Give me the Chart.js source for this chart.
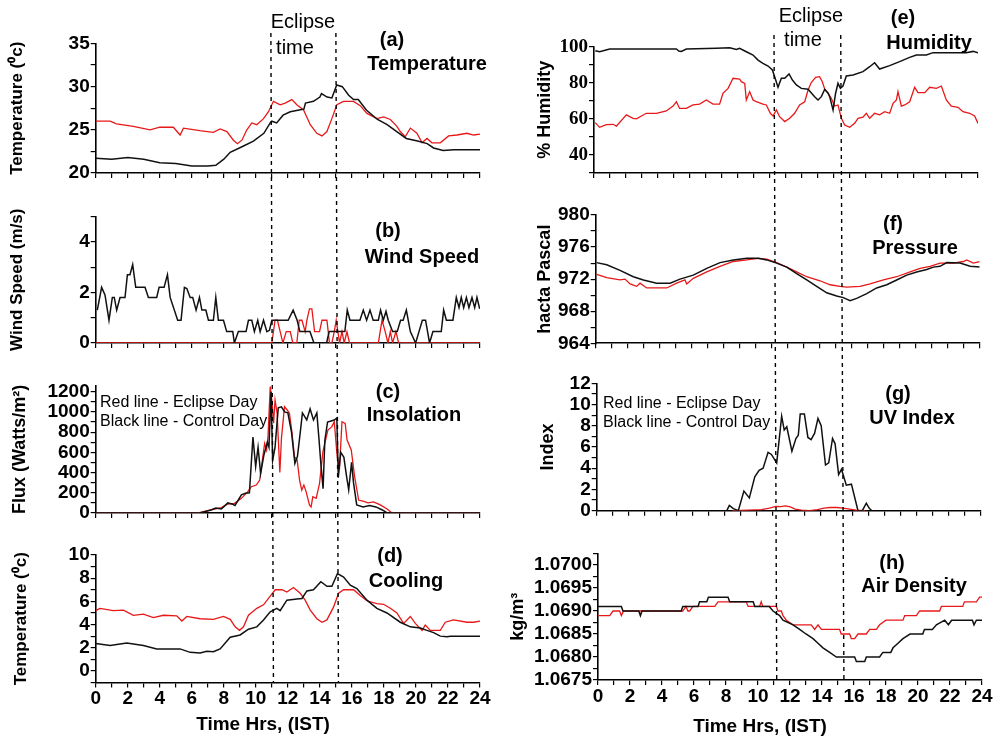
<!DOCTYPE html>
<html>
<head>
<meta charset="utf-8">
<script src="https://cdn.jsdelivr.net/npm/chart.js@4.4.1/dist/chart.umd.min.js"></script>
<style>
  html, body { margin: 0; padding: 0; background: #fff; }
  #fig { position: relative; width: 995px; height: 738px; overflow: hidden;
         font-family: 'Liberation Sans', Arial, sans-serif; color: #000; }
  .col { position: absolute; top: 0; height: 738px; }
  .col canvas { position: absolute; left: 0; top: 0; }
  .note { position: absolute; white-space: nowrap; line-height: 1; z-index: 5; }
  .c { transform: translate(-50%, -50%); }
  .b { font-weight: bold; font-size: 20px; }
  .r { font-size: 20px; }
  .xt { font-weight: bold; font-size: 19px; }
  .leg { font-size: 16px; transform: translateY(-50%); }
</style>
</head>
<body>
<div id="fig">
  <div class="col" style="left:0;width:497px">
    <canvas id="pa" width="497" height="738"></canvas>
    <canvas id="pb" width="497" height="738"></canvas>
    <canvas id="pc" width="497" height="738"></canvas>
    <canvas id="pd" width="497" height="738"></canvas>
  </div>
  <div class="col" style="left:497px;width:498px">
    <canvas id="pe" width="498" height="738"></canvas>
    <canvas id="pf" width="498" height="738"></canvas>
    <canvas id="pg" width="498" height="738"></canvas>
    <canvas id="ph" width="498" height="738"></canvas>
  </div>

  <!-- left column notes -->
  <div class="note r c" style="left:303px;top:21px">Eclipse</div>
  <div class="note r c" style="left:295px;top:47px">time</div>
  <div class="note b c" style="left:392px;top:39px">(a)</div>
  <div class="note b c" style="left:427px;top:63px">Temperature</div>
  <div class="note b c" style="left:388px;top:230px">(b)</div>
  <div class="note b c" style="left:422px;top:256px">Wind Speed</div>
  <div class="note b c" style="left:388px;top:391px">(c)</div>
  <div class="note b c" style="left:414px;top:414px">Insolation</div>
  <div class="note leg" style="left:100px;top:402px">Red line - Eclipse Day</div>
  <div class="note leg" style="left:100px;top:421px">Black line - Control Day</div>
  <div class="note b c" style="left:390px;top:555px">(d)</div>
  <div class="note b c" style="left:406px;top:580px">Cooling</div>
  <div class="note xt c" style="left:263px;top:723px">Time Hrs, (IST)</div>

  <!-- right column notes -->
  <div class="note r c" style="left:811px;top:15px">Eclipse</div>
  <div class="note r c" style="left:803px;top:39px">time</div>
  <div class="note b c" style="left:903px;top:17px">(e)</div>
  <div class="note b c" style="left:929px;top:42px">Humidity</div>
  <div class="note b c" style="left:893px;top:223px">(f)</div>
  <div class="note b c" style="left:915px;top:247px">Pressure</div>
  <div class="note b c" style="left:898px;top:393px">(g)</div>
  <div class="note b c" style="left:912px;top:417px">UV Index</div>
  <div class="note leg" style="left:603px;top:403px">Red line - Eclipse Day</div>
  <div class="note leg" style="left:603px;top:422px">Black line - Control Day</div>
  <div class="note b c" style="left:892px;top:562px">(h)</div>
  <div class="note b c" style="left:914px;top:585px">Air Density</div>
  <div class="note xt c" style="left:760px;top:725px">Time Hrs, (IST)</div>
</div>

<script>
// ---- data: [hour, value] pairs ----

// (a) temperature, deg C
const TEMP_CONTROL = [[0,21.7],[1,21.6],[2,21.8],[3,21.6],[4,21.2],[5,21.1],[6,20.8],[7,20.8],[7.5,20.9],[8,21.6],
  [8.4,22.4],[9.2,23.1],[9.85,23.7],[10.5,24.6],[10.9,25.8],[11.0,26.0],[11.3,25.8],[11.7,26.7],[12.15,27.1],[12.7,27.3],
  [13.0,27.4],[13.1,28.1],[13.6,28.3],[14.0,28.8],[14.1,29.2],[14.45,28.8],[14.75,28.7],[15.05,30.2],[15.4,30.0],[15.8,29.0],
  [16.1,28.5],[16.4,28.5],[16.9,27.3],[17.6,26.2],[18.2,25.6],[18.8,24.8],[19.4,24.0],[20.1,23.7],[20.7,23.4],[21.1,22.9],
  [21.7,22.6],[22.35,22.7],[24,22.7]];
const TEMP_ECLIPSE = [[0,26.0],[0.9,26.0],[1.3,25.7],[2.35,25.4],[3.4,25.0],[4.0,25.3],[4.85,25.3],[5.27,24.4],[5.48,25.2],[6.5,24.9],
  [7.35,24.7],[7.77,25.1],[8.19,24.8],[8.6,23.8],[8.85,23.4],[9.13,23.8],[9.44,25.0],[9.75,25.8],[10.06,25.6],[10.48,26.3],
  [10.79,27.1],[11.1,28.3],[11.52,27.9],[11.83,28.1],[12.25,28.5],[12.56,27.9],[12.98,27.3],[13.4,25.6],[13.81,24.6],[14.13,24.3],
  [14.44,24.8],[14.75,26.3],[15.06,27.9],[15.48,28.3],[16.1,28.3],[16.52,27.8],[16.94,26.9],[17.56,26.3],[17.98,26.5],[18.4,26.2],
  [18.81,25.4],[19.02,24.8],[19.33,24.2],[19.65,25.2],[20.06,24.6],[20.38,23.5],[20.69,24.0],[21.0,23.5],[21.52,23.5],[22.04,24.3],
  [22.56,24.4],[23.19,24.6],[23.6,24.4],[24,24.5]];

// (b) wind speed, m/s
const WIND_CONTROL = [[0.1,1.3],[0.37,2.2],[0.58,1.9],[0.83,0.9],[1.04,1.8],[1.16,1.8],[1.31,1.3],[1.52,1.8],[1.83,1.8],[1.98,2.7],
  [2.14,2.7],[2.31,3.1],[2.5,2.2],[3.08,2.2],[3.29,1.8],[3.81,1.8],[3.96,2.2],[4.27,2.2],[4.48,2.7],[4.65,1.8],
  [5.12,0.9],[5.33,0.9],[5.54,2.2],[5.69,2.15],[5.9,1.8],[6.06,1.8],[6.27,1.3],[6.48,1.8],[6.63,1.3],[6.88,1.3],
  [7.04,0.9],[7.35,0.9],[7.5,1.8],[7.66,0.9],[7.98,0.9],[8.18,0.45],[8.56,0.45],[8.66,0],[8.91,0.45],[9.39,0.45],
  [9.54,0.9],[9.75,0.9],[9.91,0.45],[10.12,0.9],[10.27,0.45],[10.48,0.9],[10.69,0.45],[10.85,0.5],[11.0,0.9],[12.02,0.9],
  [12.33,1.3],[12.58,0.9],[12.75,0.45],[13.38,0.45],[13.63,0],[14.42,0],[14.58,0.45],[15.56,0.45],[15.71,1.3],[15.88,0.9],
  [16.5,0.9],[16.71,1.3],[16.92,0.9],[17.13,1.3],[17.33,0.9],[17.65,0.9],[17.79,1.3],[17.96,0.9],[18.13,1.25],[18.27,0.9],
  [18.54,0.45],[18.83,0.45],[19.04,0.9],[19.2,0.9],[19.4,1.3],[19.65,0.45],[19.98,0],[20.19,0.45],[20.4,0.9],[20.6,0.9],
  [20.85,0],[21.06,0.45],[21.58,0.45],[21.73,1.3],[21.9,0.9],[22.31,0.9],[22.52,1.8],[22.69,1.4],[22.83,1.8],[22.98,1.4],
  [23.15,1.8],[23.31,1.4],[23.5,1.8],[23.67,1.4],[23.81,1.8],[23.98,1.35]];
const WIND_ECLIPSE = [[0,0],[11.0,0],[11.2,0.9],[11.35,0.9],[11.52,0.45],[11.69,0],[11.9,0.45],[12.15,0.45],[12.31,0],[12.56,0],
  [12.71,0.9],[12.88,0.9],[13.08,0.45],[13.19,0.9],[13.35,1.35],[13.5,1.35],[13.67,0.45],[13.98,0.45],[14.13,0.9],[14.44,0.9],
  [14.6,0],[14.75,0],[14.9,0.45],[15.02,0.9],[15.23,0],[15.38,0.45],[15.52,0],[15.69,0.45],[15.85,0],[17.65,0],
  [17.88,0.9],[18.08,0.45],[18.25,0],[18.4,0.45],[18.54,0],[18.75,0.45],[18.92,0],[24,0]];

// (c) insolation, W/m2
const SUN_CONTROL = [[0,0],[6.5,0],[7.2,30],[7.5,50],[7.85,40],[8.25,100],[8.5,90],[8.7,75],[9.1,180],[9.35,195],
  [9.6,200],[9.82,750],[9.99,460],[10.14,650],[10.3,390],[10.5,570],[10.72,700],[10.82,650],[10.95,1200],[11.05,520],
  [11.2,650],[11.4,1040],[11.6,1050],[11.8,1000],[12.0,990],[12.23,800],[12.44,490],[12.6,560],[12.77,790],[12.91,990],
  [13.18,920],[13.39,1030],[13.6,920],[13.81,990],[13.95,720],[14.06,490],[14.2,240],[14.31,720],[14.48,900],[14.9,920],
  [15.06,940],[15.15,350],[15.3,600],[15.5,550],[15.65,380],[15.8,230],[15.98,500],[16.1,300],[16.3,80],[16.7,60],
  [17.1,75],[17.5,60],[17.9,30],[18.2,0],[24,0]];
const SUN_ECLIPSE = [[0,0],[6.4,0],[7.2,30],[7.85,53],[8.25,89],[8.67,96],[9.1,145],[9.5,211],[9.72,260],[10.03,277],
  [10.24,326],[10.38,491],[10.55,689],[10.67,623],[10.76,755],[10.9,1250],[11.0,1118],[11.11,887],[11.2,1118],[11.33,986],
  [11.5,400],[11.6,738],[11.79,1052],[11.96,1019],[12.1,986],[12.25,805],[12.41,557],[12.58,524],[12.73,326],[12.87,227],
  [13.0,277],[13.14,211],[13.35,79],[13.45,60],[13.56,162],[13.77,145],[13.98,293],[14.19,607],[14.5,821],[14.75,854],
  [14.9,903],[15.08,557],[15.23,458],[15.38,903],[15.58,887],[15.7,722],[15.96,623],[16.17,359],[16.42,128],[16.8,112],
  [17.0,100],[17.35,110],[17.77,80],[18.2,40],[18.5,0],[24,0]];
const SUN_TICKS = [0,100,200,300,400,500,600,700,800,900,1000,1100,1200];

// (d) cooling, deg C
const COOL_CONTROL = [[0,2.36],[0.9,2.2],[1.94,2.4],[2.98,2.2],[3.81,1.9],[5.27,1.9],[5.9,1.6],[6.52,1.55],[6.94,1.7],[7.35,1.65],
  [7.77,1.9],[8.4,2.9],[9.02,3.1],[9.54,3.6],[10.06,3.8],[10.48,4.4],[10.9,5.1],[11.31,5.4],[11.52,5.2],[11.94,6.1],
  [12.56,6.2],[12.88,6.25],[13.19,6.9],[13.6,7.0],[14.06,7.7],[14.44,7.3],[14.75,7.3],[15.1,8.4],[15.48,8.1],[15.9,7.4],
  [16.31,7.1],[16.94,6.1],[17.56,5.4],[18.19,5.0],[19.02,4.2],[19.65,3.8],[20.27,3.7],[20.69,3.5],[21.1,3.3],[21.52,3.0],
  [21.94,2.95],[22.15,3.0],[24,3.0]];
const COOL_ECLIPSE = [[0,5.2],[0.27,5.4],[1.1,5.2],[1.73,5.25],[2.35,4.8],[2.98,4.9],[3.6,4.6],[4.23,4.8],[5.06,4.75],[5.38,4.3],
  [5.69,4.7],[6.52,4.5],[7.35,4.45],[7.98,4.7],[8.4,4.45],[8.71,3.8],[8.98,3.5],[9.23,3.8],[9.54,4.8],[10.06,5.4],
  [10.48,5.7],[10.79,6.25],[11.21,7.0],[11.63,7.0],[11.94,6.8],[12.35,7.2],[12.77,6.7],[13.08,6.1],[13.4,5.25],[13.81,4.5],
  [14.13,4.2],[14.44,4.4],[14.85,5.5],[15.17,6.7],[15.48,7.0],[16.1,7.0],[16.52,6.5],[16.94,6.05],[17.56,5.8],[17.98,5.75],
  [18.4,5.4],[18.81,5.0],[19.23,4.1],[19.65,4.7],[19.96,4.1],[20.38,3.5],[20.58,3.95],[20.9,3.5],[21.52,3.5],[21.83,4.2],
  [22.35,4.4],[23.19,4.2],[23.6,4.2],[24,4.3]];

// (e) humidity, %
const HUM_CONTROL = [[0.08,97.8],[0.35,97.2],[0.98,98.7],[5.15,98.7],[5.3,97.6],[5.46,97.4],[5.77,98.7],[7.65,99.1],[8.48,99.4],[8.9,98.5],
  [9.1,99.1],[9.52,97.2],[9.94,95.4],[10.25,92.6],[10.56,90.8],[10.88,89.3],[11.15,87.1],[11.29,83.4],[11.5,77.5],[11.71,82.5],
  [11.92,82.5],[12.19,84.9],[12.4,81.5],[12.65,78.8],[12.96,76.9],[13.38,76.4],[13.79,72.3],[14.0,70.5],[14.21,72.3],[14.42,76.4],
  [14.63,74.2],[14.73,72.3],[14.94,64.9],[15.1,74.2],[15.25,79.7],[15.4,76.9],[15.56,78.2],[15.77,83.8],[16.19,84.3],[16.81,86.2],
  [17.23,88.9],[17.54,91.1],[17.85,87.6],[18.48,89.5],[19.1,91.7],[19.73,94.1],[20.15,95.4],[20.77,95.4],[21.19,96.7],[23.27,96.7],
  [23.69,97.4],[24,96.7]];
const HUM_ECLIPSE = [[0.08,57.9],[0.35,55.3],[0.77,56.8],[1.19,57.0],[1.4,56.0],[2.02,62.2],[2.44,60.3],[2.65,60.0],[3.27,63.1],[3.9,63.1],
  [4.52,64.4],[4.94,67.1],[5.15,69.5],[5.35,65.8],[5.77,65.8],[6.19,67.7],[6.6,68.2],[7.02,70.5],[7.44,68.2],[7.85,68.2],
  [8.06,74.2],[8.38,76.9],[8.69,82.5],[9.1,82.1],[9.21,80.6],[9.42,79.7],[9.52,70.5],[9.73,75.1],[9.94,70.5],[10.15,69.5],
  [10.56,68.2],[10.77,67.7],[11.02,63.1],[11.19,61.6],[11.4,64.9],[11.6,61.2],[11.92,58.5],[12.23,60.3],[12.54,63.1],[12.85,67.7],
  [13.17,69.5],[13.38,76.0],[13.58,80.1],[13.85,83.0],[14.1,83.4],[14.27,80.6],[14.42,76.4],[14.63,74.2],[14.83,71.4],[15.04,67.1],
  [15.25,67.7],[15.46,60.3],[15.67,56.6],[15.98,55.3],[16.29,57.5],[16.5,60.3],[16.81,60.9],[17.02,63.1],[17.23,60.3],[17.54,63.1],
  [17.85,62.2],[18.17,64.0],[18.48,63.1],[18.69,68.6],[18.9,70.5],[19.0,75.1],[19.21,67.1],[19.42,67.7],[19.73,69.5],[20.04,77.5],
  [20.25,74.5],[20.67,74.5],[20.98,77.5],[21.4,76.9],[21.71,78.2],[22.02,70.5],[22.33,67.1],[22.75,66.4],[23.06,64.0],[23.48,63.1],
  [23.79,61.6],[24,57.5]];

// (f) pressure, hPa
const PRES_CONTROL = [[0.06,974.06],[0.69,973.8],[1.52,973.1],[2.35,972.3],[2.98,971.9],[3.81,971.5],[4.65,971.5],[5.27,972.0],[6.1,972.5],[6.94,973.35],
  [7.77,974.06],[8.6,974.4],[9.44,974.6],[10.17,974.6],[10.69,974.4],[11.31,974.0],[11.94,973.5],[12.56,972.7],[13.19,971.9],[13.81,971.1],
  [14.44,970.3],[15.06,969.9],[15.48,969.7],[15.9,969.3],[16.31,969.6],[16.94,970.2],[17.56,970.9],[18.19,971.3],[18.81,971.9],[19.44,972.5],
  [20.06,972.9],[20.69,973.2],[21.1,973.5],[21.52,973.6],[21.94,974.06],[22.77,974.0],[23.4,973.6],[24,973.5]];
const PRES_ECLIPSE = [[0.06,972.6],[0.69,972.2],[1.52,971.9],[1.83,972.0],[2.15,971.4],[2.56,971.1],[2.77,971.5],[3.19,970.9],[3.81,970.9],[4.44,970.9],
  [5.06,971.5],[5.58,971.9],[5.69,971.4],[6.1,972.1],[6.94,972.9],[7.77,973.6],[8.6,974.2],[9.44,974.4],[10.17,974.6],[10.69,974.5],
  [11.31,974.06],[11.94,973.5],[12.56,972.9],[13.19,972.3],[14.02,971.8],[14.65,971.3],[15.27,971.1],[15.69,971.0],[16.52,971.1],[17.15,971.4],
  [17.98,971.9],[18.81,972.3],[19.65,972.9],[20.27,973.35],[20.9,973.6],[21.52,974.0],[22.35,974.0],[22.98,974.2],[23.19,974.4],[23.6,974.0],
  [24,974.2]];

// (g) UV index
const UV_CONTROL = [[7.9,0],[8.13,0],[8.29,0.5],[8.54,0.2],[8.85,0],[9.2,1.85],[9.54,1.2],[9.88,3.2],[10.15,3.8],[10.4,4.0],
  [10.71,5.5],[10.92,5.3],[11.25,4.5],[11.56,8.9],[11.72,7.6],[11.88,7.9],[12.2,5.6],[12.45,6.8],[12.6,7.1],[12.72,9.1],
  [12.98,9.1],[13.2,6.9],[13.4,6.7],[13.62,7.3],[13.83,8.7],[14.03,8.0],[14.3,4.3],[14.5,4.5],[14.74,6.8],[14.9,6.3],
  [15.12,3.4],[15.3,3.9],[15.6,2.4],[15.92,2.5],[16.33,0],[16.6,0],[16.85,0.7],[17.05,0.2],[17.2,0]];
const UV_ECLIPSE = [[8.5,0],[9.5,0.05],[10.3,0.1],[10.8,0.25],[11.2,0.4],[11.5,0.38],[11.8,0.45],[12.1,0.35],[12.4,0.15],[12.8,0.05],
  [13.3,0],[13.8,0.1],[14.2,0.25],[14.6,0.3],[15.0,0.3],[15.4,0.25],[15.8,0.15],[16.2,0.05],[16.8,0]];

// (h) air density, kg/m3
const AIR_CONTROL = [[0,1.0691],[1.46,1.0691],[1.56,1.0690],[2.55,1.0690],[2.65,1.0689],[2.75,1.0690],[5.2,1.0690],[5.3,1.0691],[6.25,1.0691],[6.35,1.0692],
  [6.8,1.0692],[6.9,1.0693],[8.13,1.0693],[8.23,1.0692],[9.7,1.0692],[9.8,1.0691],[10.7,1.0691],[10.94,1.0690],[11.35,1.0689],[11.56,1.0688],
  [12.19,1.0687],[12.6,1.0686],[13.0,1.0685],[13.44,1.0684],[13.75,1.0683],[14.06,1.0682],[14.48,1.0681],[14.9,1.0680],[16.04,1.0680],[16.15,1.0679],
  [16.67,1.0679],[16.77,1.0680],[17.6,1.0680],[17.8,1.0681],[18.3,1.0681],[18.44,1.0682],[18.75,1.0683],[19.06,1.0684],[19.5,1.0685],[20.3,1.0685],
  [20.4,1.0686],[20.9,1.0686],[21.15,1.0687],[21.67,1.0688],[21.9,1.0687],[22.1,1.0688],[23.4,1.0688],[23.5,1.0687],[23.65,1.0688],[24,1.0688]];
const AIR_ECLIPSE = [[0,1.0689],[0.73,1.0689],[0.94,1.0690],[1.35,1.0690],[1.46,1.0689],[1.6,1.0690],[5.3,1.0690],[5.5,1.0691],[5.62,1.0690],[5.73,1.0690],
  [5.94,1.0691],[7.3,1.0691],[7.5,1.0692],[9.27,1.0692],[9.38,1.0691],[10.1,1.0691],[10.2,1.0692],[10.3,1.0691],[11.15,1.0691],[11.25,1.0690],
  [11.46,1.0690],[11.56,1.0689],[11.77,1.0688],[12.19,1.0687],[13.33,1.0687],[13.54,1.0686],[13.75,1.0687],[13.96,1.0686],[15.1,1.0686],[15.2,1.0685],
  [15.73,1.0685],[15.83,1.0684],[16.04,1.0684],[16.25,1.0685],[16.77,1.0685],[16.98,1.0686],[17.4,1.0686],[17.6,1.0687],[18.0,1.0688],[19.06,1.0688],
  [19.17,1.0689],[19.9,1.0689],[20.1,1.0690],[21.35,1.0690],[21.46,1.0691],[22.8,1.0691],[22.9,1.0692],[23.65,1.0692],[23.85,1.0693],[24,1.0693]];

// eclipse start / end marks (hours) where the dashed lines meet the top and the bottom of each column
const ECLIPSE_LEFT_TOP = [10.94, 15.0];
const ECLIPSE_LEFT_BOTTOM = [11.1, 15.16];
const ECLIPSE_RIGHT_TOP = [11.0, 15.17];
const ECLIPSE_RIGHT_BOTTOM = [11.17, 15.37];

// ---- drawing ----
const FONT = "'Liberation Sans', Arial, sans-serif";
const SERIF = "'Liberation Serif', 'Times New Roman', serif";
const BLACK = '#111';
const RED = '#e81818';
const X_AXIS_H = 30;

Chart.defaults.font.family = FONT;
Chart.defaults.color = '#000';

function pts(arr) {
  return arr.map(p => ({ x: p[0], y: p[1] }));
}

// dashed eclipse markers, drawn through the x scale of the bottom panel of each column
const eclipseLines = {
  id: 'eclipseLines',
  afterDatasetsDraw(chart, args, opts) {
    if (!opts || !opts.top) return;
    const { ctx } = chart;
    const x = chart.scales.x;
    ctx.save();
    ctx.strokeStyle = '#000';
    ctx.lineWidth = 1.4;
    ctx.setLineDash([4, 4]);
    opts.top.forEach((t, i) => {
      ctx.beginPath();
      ctx.moveTo(x.getPixelForValue(t), opts.y0);
      ctx.lineTo(x.getPixelForValue(opts.bottom[i]), opts.y1);
      ctx.stroke();
    });
    ctx.restore();
  }
};

function panel(id, g) {
  const canvas = document.getElementById(id);
  const H = canvas.height;
  const yScale = {
    type: 'linear', min: g.min, max: g.max,
    ticks: {
      stepSize: g.step, autoSkip: false, padding: 1,
      font: { family: g.tickFamily || FONT, size: 19, weight: 'bold' }, color: '#000',
      callback: g.label
    },
    grid: { drawOnChartArea: false, drawTicks: true, tickLength: 5, color: '#000', lineWidth: 1.2 },
    border: { display: true, color: '#000', width: 1.6 },
    title: {
      display: true, text: g.title, color: '#000',
      font: { family: FONT, size: g.titleSize || 18, weight: 'bold' },
      padding: { top: g.titlePad, bottom: 0 }
    },
    afterFit: s => { s.width = g.yW; }
  };
  if (g.tickValues) {
    yScale.afterBuildTicks = s => { s.ticks = g.tickValues.map(v => ({ value: v })); };
  }
  return new Chart(canvas, {
    type: 'line',
    data: {
      datasets: [
        { data: pts(g.control), borderColor: BLACK, borderWidth: 1.5 },
        { data: pts(g.eclipse), borderColor: RED, borderWidth: 1.3 }
      ]
    },
    options: {
      responsive: false,
      animation: false,
      events: [],
      layout: { padding: { left: 0, right: g.padR, top: g.top, bottom: H - g.bottom - X_AXIS_H } },
      elements: { point: { radius: 0 }, line: { tension: 0, fill: false } },
      plugins: {
        legend: { display: false },
        tooltip: { enabled: false },
        eclipseLines: g.marks || false
      },
      scales: {
        x: {
          type: 'linear', min: 0, max: 24,
          ticks: {
            stepSize: 1, autoSkip: false, maxRotation: 0, display: !!g.xLabels, padding: 0,
            font: { family: FONT, size: 19, weight: 'bold' }, color: '#000',
            callback: v => (v % 2 === 0 ? String(v) : '')
          },
          grid: { drawOnChartArea: false, drawTicks: true, tickLength: 5, color: '#000', lineWidth: 1.2 },
          border: { display: true, color: '#000', width: 1.6 },
          afterFit: s => { s.height = X_AXIS_H; }
        },
        y: yScale
      }
    },
    plugins: [eclipseLines]
  });
}

// left column
panel('pa', {
  control: TEMP_CONTROL, eclipse: TEMP_ECLIPSE,
  yW: 95.7, padR: 17, top: 43.5, bottom: 173,
  min: 20, max: 35, step: 2.5, label: v => (v % 5 === 0 ? v : ''),
  title: 'Temperature (\u2070c)', titleSize: 17, titlePad: 7
});
panel('pb', {
  control: WIND_CONTROL, eclipse: WIND_ECLIPSE,
  yW: 95.7, padR: 17, top: 216.5, bottom: 343,
  min: 0, max: 5, step: 1, label: v => (v % 2 === 0 ? v : ''),
  title: 'Wind Speed (m/s)', titleSize: 17, titlePad: 7
});
panel('pc', {
  control: SUN_CONTROL, eclipse: SUN_ECLIPSE,
  yW: 95.7, padR: 17, top: 385.6, bottom: 513,
  min: 0, max: 1260, step: 100, tickValues: SUN_TICKS, label: v => (v % 200 === 0 ? v : ''),
  title: 'Flux (Watts/m\u00b2)', titleSize: 18, titlePad: 9
});
panel('pd', {
  control: COOL_CONTROL, eclipse: COOL_ECLIPSE,
  yW: 95.7, padR: 17, top: 555, bottom: 682.5,
  min: -1, max: 10, step: 1, label: v => (v >= 0 && v % 2 === 0 ? v : ''),
  title: 'Temperature (\u2070c)', titleSize: 17, titlePad: 11.5, xLabels: true,
  marks: { top: ECLIPSE_LEFT_TOP, bottom: ECLIPSE_LEFT_BOTTOM, y0: 33, y1: 682.5 }
});

// right column (canvas starts at x = 497)
panel('pe', {
  control: HUM_CONTROL, eclipse: HUM_ECLIPSE,
  yW: 97, padR: 17, top: 46.7, bottom: 173,
  min: 30, max: 100, step: 10, label: v => (v >= 40 && v % 20 === 0 ? v : ''),
  title: '% Humidity', titlePad: 37, tickFamily: SERIF
});
panel('pf', {
  control: PRES_CONTROL, eclipse: PRES_ECLIPSE,
  yW: 98.7, padR: 15.3, top: 215, bottom: 343.3,
  min: 964, max: 980, step: 2, label: v => (v % 4 === 0 ? v : ''),
  title: 'hacta Pascal', titlePad: 37
});
panel('pg', {
  control: UV_CONTROL, eclipse: UV_ECLIPSE,
  yW: 99.7, padR: 14.3, top: 383.3, bottom: 510.7,
  min: 0, max: 12, step: 1, label: v => (v % 2 === 0 ? v : ''),
  title: 'Index', titlePad: 40
});
panel('ph', {
  control: AIR_CONTROL, eclipse: AIR_ECLIPSE,
  yW: 101, padR: 13, top: 553.5, bottom: 680,
  min: 1.0675, max: 1.07025, step: 0.00025,
  label: v => (Math.round(v * 1e5) % 50 === 0 ? v.toFixed(4) : ''),
  title: 'kg/m\u00b3', titlePad: 10, xLabels: true,
  marks: { top: ECLIPSE_RIGHT_TOP, bottom: ECLIPSE_RIGHT_BOTTOM, y0: 35, y1: 680 }
});
</script>
</body>
</html>
